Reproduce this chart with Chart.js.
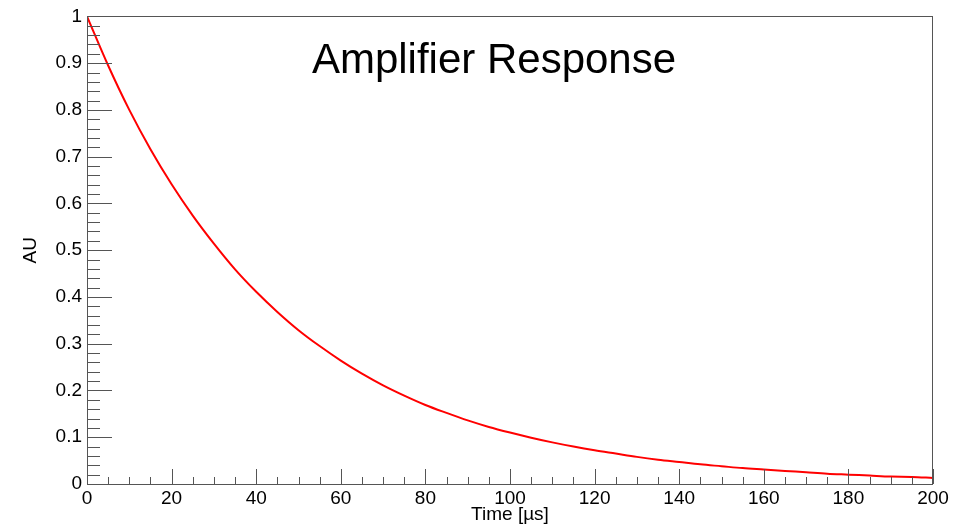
<!DOCTYPE html>
<html lang="en">
<head>
<meta charset="UTF-8">
<title>Amplifier Response</title>
<script src="https://cdn.jsdelivr.net/npm/chart.js"></script>
<style>
  html, body { margin: 0; padding: 0; background: #fff; }
  #chart-container { width: 970px; height: 528px; }
</style>
</head>
<body>
<div id="chart-container"><canvas id="ampChart"></canvas></div>
<script>
// time in microseconds and response (arbitrary units)
const timeUs = [0, 5, 10, 15, 20, 25, 30, 35, 40, 45, 50, 55, 60, 65, 70, 75, 80, 85, 90, 95, 100,
                105, 110, 115, 120, 125, 130, 135, 140, 145, 150, 155, 160, 165, 170, 175, 180, 185, 190, 195, 200];
const response = [1.000, 0.895, 0.800, 0.716, 0.641, 0.574, 0.514, 0.459, 0.411, 0.368, 0.329,
                  0.295, 0.264, 0.236, 0.211, 0.189, 0.169, 0.152, 0.136, 0.122, 0.110,
                  0.099, 0.089, 0.080, 0.072, 0.065, 0.058, 0.052, 0.047, 0.042, 0.038,
                  0.034, 0.031, 0.028, 0.025, 0.022, 0.020, 0.018, 0.016, 0.015, 0.013];

const xMajor = [0, 20, 40, 60, 80, 100, 120, 140, 160, 180, 200];
const yLabels = ['0', '0.1', '0.2', '0.3', '0.4', '0.5', '0.6', '0.7', '0.8', '0.9', '1'];

const FONT = 'Liberation Sans, Arial, sans-serif';

// frame + inward ticks, ROOT style
const rootAxes = {
    id: 'rootAxes',
    afterDraw(chart) {
        const ctx = chart.ctx;
        const a = chart.chartArea;
        const xs = chart.scales.x, ys = chart.scales.y;
        ctx.save();
        ctx.strokeStyle = '#555';
        ctx.lineWidth = 1;
        ctx.strokeRect(Math.round(a.left) + 0.5, Math.round(a.top) + 0.5,
                       Math.round(a.right - a.left) - 1, Math.round(a.bottom - a.top));
        ctx.beginPath();
        // x ticks: major 20, minor 5
        for (let v = 0; v <= 200; v += 5) {
            const px = Math.round(xs.getPixelForValue(v)) + 0.5;
            const len = xMajor.includes(v) ? 15 : 7;
            ctx.moveTo(px, a.bottom);
            ctx.lineTo(px, a.bottom - len);
        }
        // y ticks: major 0.1, minor 0.02
        for (let i = 0; i <= 50; i++) {
            const py = Math.round(ys.getPixelForValue(i / 50)) + 0.5;
            const len = (i % 5 === 0) ? 25 : 13;
            ctx.moveTo(a.left, py);
            ctx.lineTo(a.left + len, py);
        }
        ctx.stroke();

        ctx.fillStyle = '#000';
        ctx.font = '42px ' + FONT;
        ctx.textAlign = 'center';
        ctx.textBaseline = 'middle';
        ctx.fillText('Amplifier Response', 494, 61);
        ctx.restore();
    }
};

new Chart(document.getElementById('ampChart').getContext('2d'), {
    type: 'line',
    data: {
        datasets: [{
            label: 'Amplifier Response',
            data: timeUs.map((t, i) => ({ x: t, y: response[i] })),
            borderColor: '#ff0000',
            borderWidth: 2,
            pointRadius: 0,
            cubicInterpolationMode: 'monotone',
            fill: false
        }]
    },
    options: {
        responsive: true,
        maintainAspectRatio: false,
        animation: false,
        layout: { padding: { top: 14, right: 37, left: 0, bottom: 0 } },
        plugins: { legend: { display: false }, tooltip: { enabled: false } },
        scales: {
            x: {
                type: 'linear', min: 0, max: 200,
                afterFit(s) { s.height = 44; },
                grid: { drawOnChartArea: false, drawTicks: false },
                border: { display: false },
                ticks: { stepSize: 20, color: '#000', font: { family: FONT, size: 19 }, padding: 3, maxRotation: 0 },
                title: { display: true, text: 'Time [µs]', color: '#000', font: { family: FONT, size: 19 }, padding: { top: 0, bottom: 2 } }
            },
            y: {
                min: 0, max: 1,
                afterFit(s) { s.width = 87; },
                grid: { drawOnChartArea: false, drawTicks: false },
                border: { display: false },
                ticks: {
                    stepSize: 0.1, color: '#000', font: { family: FONT, size: 19 }, padding: 5,
                    callback: (v, i) => yLabels[i]
                },
                title: { display: true, text: 'AU', color: '#000', font: { family: FONT, size: 19 }, padding: { top: 19, bottom: 0 } }
            }
        }
    },
    plugins: [rootAxes]
});
</script>
</body>
</html>
